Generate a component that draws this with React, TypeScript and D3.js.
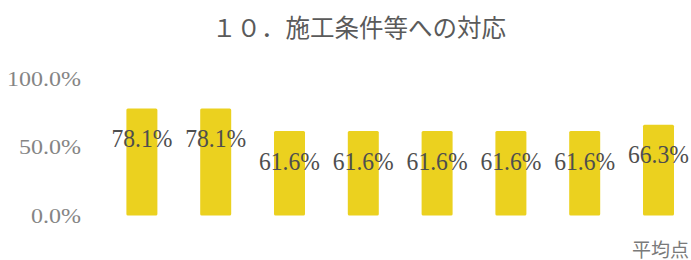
import React from "react";
import * as d3 from "d3";

const TITLE = "１０．施工条件等への対応";
const categories = ["1", "2", "3", "4", "5", "6", "7", "平均点"];
const categoryLabels = ["", "", "", "", "", "", "", "平均点"];
const values = [78.1, 78.1, 61.6, 61.6, 61.6, 61.6, 61.6, 66.3];
const yTicks = [0, 50, 100];

const W = 691;
const H = 260;

export default function App() {
  const x = d3
    .scaleBand<string>()
    .domain(categories)
    .range([105, 695.4])
    .paddingInner(0.58)
    .paddingOuter(0.29);
  const y = d3.scaleLinear().domain([0, 100]).range([215.5, 78.5]);
  const fmt = (v: number) => v.toFixed(1) + "%";
  const digitCount = (s: string) => s.replace(/[^0-9]/g, "").length;

  return (
    <svg
      width={W}
      height={H}
      style={{ position: "fixed", left: 0, top: 0, background: "#fff" }}
    >
      <rect x={0} y={0} width={W} height={H} fill="#fff" />
      <text
        x={359}
        y={26}
        textAnchor="middle"
        dominantBaseline="central"
        fontFamily="'Noto Sans CJK JP', sans-serif"
        fontSize={24.5}
        fill="#5a5a5a"
      >
        {TITLE}
      </text>
      {yTicks.map((t) => {
        const s = fmt(t);
        return (
          <text
            key={t}
            x={81}
            y={y(t) + 7}
            textAnchor="end"
            fontFamily="'Liberation Serif', serif"
            fontSize={21}
            textLength={12 * digitCount(s) + 26}
            lengthAdjust="spacingAndGlyphs"
            fill="#858585"
          >
            {s}
          </text>
        );
      })}
      {categories.map((c, i) => {
        const v = values[i];
        const bx = x(c)!;
        const bw = x.bandwidth();
        return (
          <g key={c}>
            <rect
              x={bx}
              y={y(v)}
              width={bw}
              height={y(0) - y(v)}
              fill="#EBD11F"
              rx={1.5}
            />
            <text
              x={bx + bw / 2}
              y={y(v) + 38.5}
              textAnchor="middle"
              fontFamily="'Liberation Serif', serif"
              fontSize={25}
              textLength={61}
              lengthAdjust="spacingAndGlyphs"
              fill="#4e4e4e"
            >
              {fmt(v)}
            </text>
            {categoryLabels[i] ? (
              <text
                x={bx + bw / 2 + 2}
                y={257}
                textAnchor="middle"
                fontFamily="'Noto Sans CJK JP', sans-serif"
                fontSize={19}
                fill="#7a7a7a"
              >
                {categoryLabels[i]}
              </text>
            ) : null}
          </g>
        );
      })}
    </svg>
  );
}
